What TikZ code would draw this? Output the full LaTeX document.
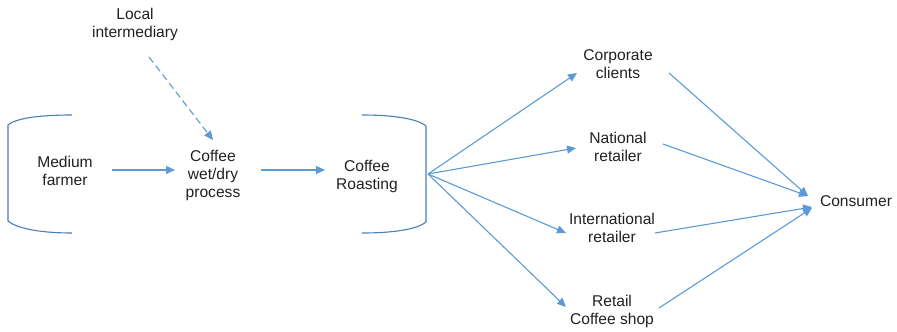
\documentclass[tikz,border=0pt]{standalone}
\usepackage{fontspec}
\setmainfont{Liberation Sans}
\usetikzlibrary{arrows.meta}
\definecolor{arrblue}{HTML}{5B9BD5}
\definecolor{brkblue}{HTML}{4A7EBB}
\definecolor{txt}{HTML}{231F20}
\begin{document}
\begin{tikzpicture}[x=1pt,y=-1pt,
  lbl/.style={text=txt,align=center,inner sep=0pt,font=\fontsize{15.6}{18}\selectfont},
  arr/.style={draw=arrblue,line width=1.1pt,-{Triangle[length=9pt,width=8pt]}},
  plain/.style={draw=arrblue,line width=1.1pt},
  brk/.style={draw=brkblue,line width=1.1pt}]
\useasboundingbox (0,0) rectangle (897,332);
\node[lbl] (local) at (135,24) {Local\\intermediary};
\node[lbl] (farmer) at (65,171) {Medium\\farmer};
\node[lbl] (wetdry) at (213,175) {Coffee\\wet/dry\\process};
\node[lbl] (roast) at (367,176) {Coffee\\Roasting};
\node[lbl] (corp) at (618,64) {Corporate\\clients};
\node[lbl] (nat) at (618,147) {National\\retailer};
\node[lbl] (intl) at (612,228) {International\\retailer};
\node[lbl] (retail) at (612,311) {Retail\\Coffee shop};
\node[lbl] (cons) at (856,201) {Consumer};
% brackets
\draw[brk] (72,115) .. controls (35,115) and (15,119) .. (8,125) -- (8,221) .. controls (15,227) and (35,233) .. (72,233);
\draw[brk] (362,115) .. controls (399,115) and (419,120) .. (426,126) -- (426,222) .. controls (419,228) and (399,233) .. (362,233);
% connectors
\draw[arr] ([shift={(47,-1)}]farmer.center) -- ([shift={(-38,-5)}]wetdry.center);
\draw[arr] ([shift={(48,-5)}]wetdry.center) -- ([shift={(-42,-6)}]roast.center);
\draw[arr,dash pattern=on 7pt off 4pt] ([shift={(14,33)}]local.center) -- ([shift={(0,-35)}]wetdry.center);
\draw[arr] ([shift={(61,-2)}]roast.center) -- ([shift={(-41,9)}]corp.center);
\draw[arr] ([shift={(61,-2)}]roast.center) -- ([shift={(-42,1)}]nat.center);
\draw[arr] ([shift={(61,-2)}]roast.center) -- ([shift={(-46,5)}]intl.center);
\draw[arr] ([shift={(61,-2)}]roast.center) -- ([shift={(-46,-4)}]retail.center);
\draw[arr] ([shift={(51,9)}]corp.center) -- ([shift={(-48,-5)}]cons.center);
\draw[arr] ([shift={(45,-3)}]nat.center) -- ([shift={(-48,-5)}]cons.center);
\draw[arr] ([shift={(43,5)}]intl.center) -- ([shift={(-44,6)}]cons.center);
\draw[arr] ([shift={(47,-3)}]retail.center) -- ([shift={(-44,7)}]cons.center);
\end{tikzpicture}
\end{document}
